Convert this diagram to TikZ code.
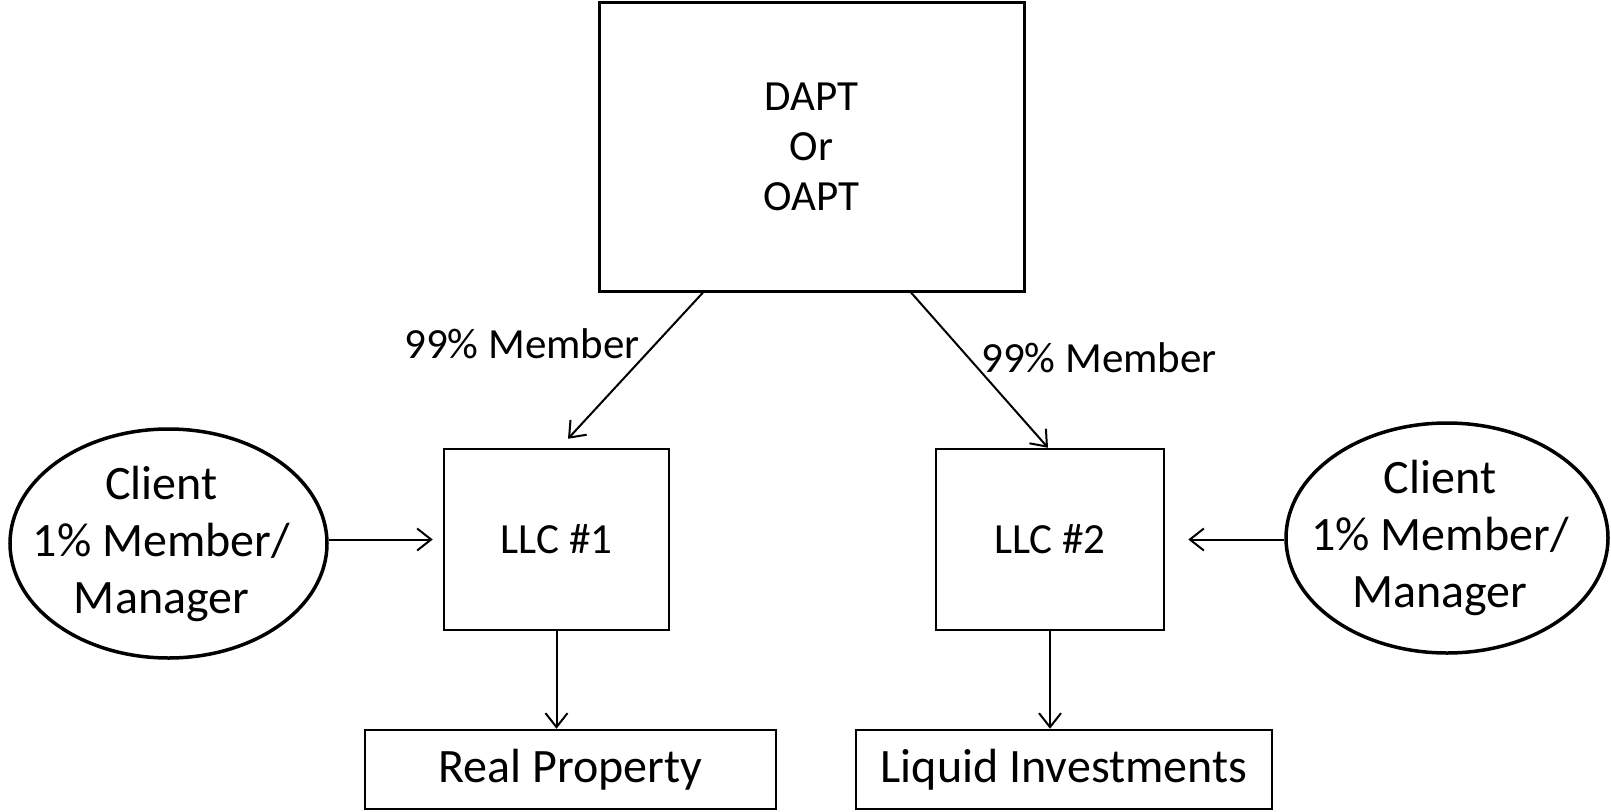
\documentclass[tikz,border=0pt]{standalone}
\usepackage{fontspec}
\setmainfont{Carlito}
\usetikzlibrary{arrows.meta,shapes.geometric,calc}
\tikzset{
  box/.style={draw, line width=2.5pt, rectangle, inner sep=0pt, align=center},
  bigbox/.style={box, line width=3pt},
  oval/.style={draw, line width=3.5pt, ellipse, inner sep=0pt},
  ovaltext/.style={inner sep=0pt, align=center, font=\fontsize{48}{57}\selectfont},
  arr/.style={line width=2pt, -{Straight Barb[length=14pt,width=22pt,line width=2pt]}},
  fA/.style={font=\fontsize{43}{50}\selectfont},
  fC/.style={font=\fontsize{48}{52}\selectfont},
  fD/.style={font=\fontsize{43}{50}\selectfont},
}
\begin{document}
\begin{tikzpicture}[x=1pt,y=-1pt]
\useasboundingbox (0,0) rectangle (1611,811);
\node[bigbox, fA, minimum width=425pt, minimum height=289pt] (dapt) at (811.5,146.5) {DAPT\\Or\\OAPT};
\node[box, fA, minimum width=225pt, minimum height=181pt] (llc1) at (556.5,539.5) {LLC \#1};
\node[box, fA, minimum width=228pt, minimum height=181pt] (llc2) at (1050,539.5) {LLC \#2};
\node[oval, minimum width=317pt, minimum height=229pt] (cl1) at (168.5,543.5) {};
\node[ovaltext] (cl1t) at ([xshift=-7pt]cl1.center) {Client\\1\% Member/\\Manager};
\node[oval, minimum width=322pt, minimum height=230pt] (cl2) at (1447,538) {};
\node[ovaltext] (cl2t) at ([xshift=-7pt]cl2.center) {Client\\1\% Member/\\Manager};
\node[box, fC, minimum width=411pt, minimum height=79pt] (rp) at (570.5,769.5) {Real Property};
\node[box, fC, minimum width=416pt, minimum height=79pt] (li) at (1064,769.5) {Liquid Investments};
\node[fD, inner sep=0pt] (lab1) at (522,344) {99\% Member};
\node[fD, inner sep=0pt] (lab2) at (1099,358) {99\% Member};
\draw[arr] ([xshift=-108.5pt]dapt.south) -- ([xshift=11.5pt,yshift=9pt]llc1.north);
\draw[arr] ([xshift=99.5pt]dapt.south) -- ([xshift=-2pt]llc2.north);
\draw[arr] (cl1.east |- llc1.west) -- ([xshift=-10pt]llc1.west);
\draw[arr] (cl2.west |- llc2.east) -- ([xshift=23pt]llc2.east);
\draw[arr] (llc1.south) -- (llc1.south |- rp.north);
\draw[arr] (llc2.south) -- (llc2.south |- li.north);
\end{tikzpicture}
\end{document}
